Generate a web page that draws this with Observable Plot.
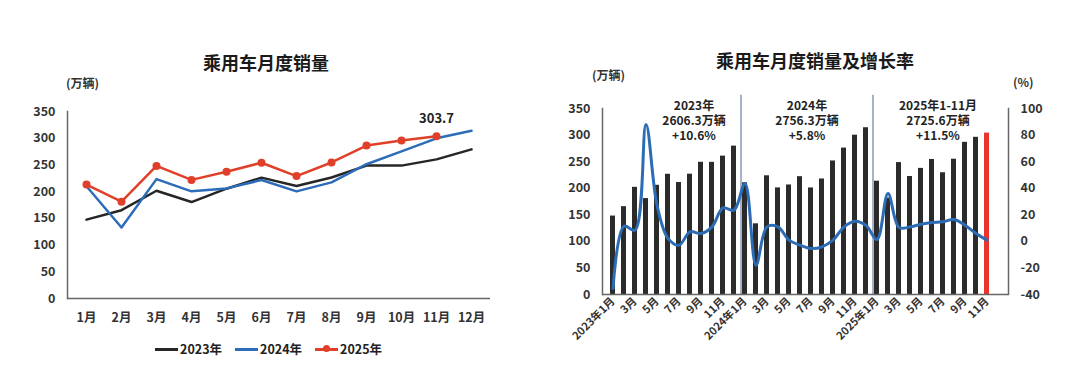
<!DOCTYPE html>
<html><head><meta charset="utf-8">
<script src="https://cdn.jsdelivr.net/npm/d3@7"></script>
<script src="https://cdn.jsdelivr.net/npm/@observablehq/plot@0.6"></script>
<style>
body{margin:0;background:#fff;font-family:"Noto Sans CJK SC","Noto Sans",sans-serif;}
#wrap{position:relative;width:1080px;height:378px;overflow:hidden;background:#fff;}
.abs{position:absolute;white-space:nowrap;font-weight:700;color:#222;line-height:1;}
.plot{position:absolute;top:0;}
.title{font-size:18px;color:#1a1a1a;transform:translateX(-50%);}
.unit{font-size:12px;color:#333;}
.leg{display:flex;align-items:center;font-size:12.5px;color:#222;}
.leg span.sw{display:inline-block;width:23px;height:3px;margin-right:2px;position:relative;}
</style></head><body><div id="wrap"></div>
<script>
// ---- data ----
const months = ["1月","2月","3月","4月","5月","6月","7月","8月","9月","10月","11月","12月"];
const years = ["2023年","2024年","2025年"];
const sales2023 = [147.6,165.3,201.7,180.5,205.5,226.2,210.7,226.4,248.8,248.7,260.4,279.2];
const sales2024 = [210.2,133.0,223.4,200.6,206.1,221.7,200.5,217.4,251.3,275.5,299.8,313.8];
const sales2025 = [213.2,181.3,248.2,222.0,237.3,254.1,229.1,254.6,286.3,295.8,303.7];
const growth2023 = [-35.5,11.4,8.4,88.0,27.2,2.2,-2.9,7.2,5.9,10.9,25.2,23.5];
const growth2024 = [43.6,-17.9,10.9,10.9,0.9,-2.9,-5.4,-4.1,0.9,10.9,15.2,12.0];
const growth2025 = [1.4,36.0,10.4,10.9,12.9,14.2,14.7,16.5,12.2,5.9,0.9];
const yearNotes = ["2023年\n2606.3万辆\n+10.6%","2024年\n2756.3万辆\n+5.8%","2025年1-11月\n2725.6万辆\n+11.5%"];
const salesTicks = [0,50,100,150,200,250,300,350];
const growthTicks = [-40,-20,0,20,40,60,80,100];

const FONT = '"Noto Sans CJK SC","Noto Sans",sans-serif';
const wrap = document.getElementById("wrap");
function addDiv(cls, html, style){const d=document.createElement("div");d.className="abs "+cls;d.innerHTML=html;Object.assign(d.style,style);wrap.appendChild(d);return d;}

// ---- left chart ----
const colors = {"2023年":"#262626","2024年":"#2c6cb8","2025年":"#e0402a"};
const seriesSales = [sales2023, sales2024, sales2025];
const rows = [];
seriesSales.forEach((arr,k)=>arr.forEach((v,i)=>rows.push({year:years[k], month:months[i], value:v})));
const byYear = y => rows.filter(d=>d.year===y);

const left = Plot.plot({
  width:540, height:378,
  marginLeft:67, marginRight:50, marginTop:111, marginBottom:80,
  style:{fontFamily:FONT, fontSize:"12.5px", fontWeight:700, color:"#333", background:"transparent", overflow:"visible"},
  x:{type:"point", domain:months, padding:0.5},
  y:{domain:[0,350]},
  marks:[
    Plot.frame({anchor:"left", stroke:"#666", strokeWidth:1.5}),
    Plot.ruleY([0], {stroke:"#666", strokeWidth:1.5}),
    Plot.axisY({ticks:salesTicks, tickSize:0, tickPadding:12, label:null}),
    Plot.axisX({tickSize:0, tickPadding:15, label:null}),
    Plot.line(byYear("2023年"), {x:"month", y:"value", stroke:colors["2023年"], strokeWidth:2.5}),
    Plot.line(byYear("2024年"), {x:"month", y:"value", stroke:colors["2024年"], strokeWidth:2.5}),
    Plot.line(byYear("2025年"), {x:"month", y:"value", stroke:colors["2025年"], strokeWidth:2.5}),
    Plot.dot(byYear("2025年"), {x:"month", y:"value", r:4, fill:colors["2025年"], stroke:"none"}),
    Plot.text(byYear("2025年").filter(d=>d.month==="11月"), {x:"month", y:"value", text:d=>d.value.toFixed(1), dy:-17, fontSize:13, fontWeight:700, fill:"#222"})
  ]
});
left.classList.add("plot"); left.style.left="0px";
wrap.appendChild(left);

addDiv("title","乘用车月度销量",{left:"266px",top:"53px"});
addDiv("unit","(万辆)",{left:"66px",top:"77px"});
const leg = addDiv("leg","",{left:"155px",top:"343px"});
years.forEach((y,k)=>{
  const item=document.createElement("div");item.style.display="flex";item.style.alignItems="center";item.style.marginRight=k<2?"13px":"0";
  const sw=document.createElement("span");sw.className="sw";sw.style.background=colors[y];
  if(y==="2025年"){const dot=document.createElement("span");Object.assign(dot.style,{position:"absolute",left:"8px",top:"-2.5px",width:"7px",height:"7px",borderRadius:"50%",background:colors[y]});sw.appendChild(dot);}
  item.appendChild(sw);
  const t=document.createElement("span");t.textContent=y;item.appendChild(t);
  leg.appendChild(item);
});

// ---- right chart ----
const growthSeries = [growth2023, growth2024, growth2025];
const data = [];
const keys = [];
[2023,2024,2025].forEach((yr,k)=>{
  for(let m=1;m<=12;m++){
    const key = yr+"-"+m; keys.push(key);
    const s = seriesSales[k][m-1];
    if(s!==undefined) data.push({key, yr, m, sales:s, growth:growthSeries[k][m-1]});
  }
});
const toPrimary = g => (g+40)/140*350;
const fromPrimary = v => Math.round(v/350*140-40);
const tickKeys = keys.filter(k=>{const [y,m]=k.split("-").map(Number);return m%2===1 && !(y===2025 && m>11);});
const fmtKey = k => {const [y,m]=k.split("-").map(Number); return m===1 ? y+"年"+m+"月" : m+"月";};
const last = data[data.length-1];
const notes = [
  {key:"2023-7", text:yearNotes[0], dx:15},
  {key:"2024-6", text:yearNotes[1], dx:7},
  {key:"2025-5", text:yearNotes[2], dx:17}
];
const noteMarks = notes.map(n => Plot.text([n], {x:"key", y:327.5, dx:n.dx, text:"text", lineHeight:1.25, fontSize:12, fontWeight:700, fill:"#222"}));

const right = Plot.plot({
  width:540, height:378,
  marginLeft:62, marginRight:72, marginTop:108, marginBottom:84,
  style:{fontFamily:FONT, fontSize:"12.5px", fontWeight:700, color:"#333", background:"transparent", overflow:"visible"},
  x:{type:"band", domain:keys, paddingInner:0.55, paddingOuter:0.275},
  y:{domain:[0,350]},
  marks:[
    Plot.barY(data.filter(d=>d!==last), {x:"key", y:"sales", fill:"#2b2b2b"}),
    Plot.barY([last], {x:"key", y:"sales", fill:"#e8342a"}),
    Plot.ruleX(["2024-1","2025-1"], {dx:-4, y1:0, y2:375, stroke:"#6f7fa6", strokeWidth:1.2}),
    Plot.frame({anchor:"left", stroke:"#666", strokeWidth:1.5}),
    Plot.frame({anchor:"right", stroke:"#666", strokeWidth:1.5}),
    Plot.ruleY([0], {stroke:"#666", strokeWidth:1.5}),
    Plot.line(data, {x:"key", y:d=>toPrimary(d.growth), curve:"catmull-rom", stroke:"#2c6cb5", strokeWidth:3}),
    Plot.axisY({ticks:salesTicks, tickSize:0, tickPadding:12, label:null}),
    Plot.axisY({anchor:"right", ticks:growthTicks.map(toPrimary), tickFormat:fromPrimary, tickSize:0, tickPadding:12, label:null}),
    Plot.axisX({ticks:tickKeys, tickFormat:fmtKey, tickRotate:-45, tickSize:0, tickPadding:5, fontSize:11, label:null}),
    ...noteMarks
  ]
});
right.classList.add("plot"); right.style.left="540px";
wrap.appendChild(right);

addDiv("title","乘用车月度销量及增长率",{left:"815px",top:"51px"});
addDiv("unit","(万辆)",{left:"592px",top:"69px"});
addDiv("unit","(%)",{left:"1013px",top:"76px"});
</script></body></html>
